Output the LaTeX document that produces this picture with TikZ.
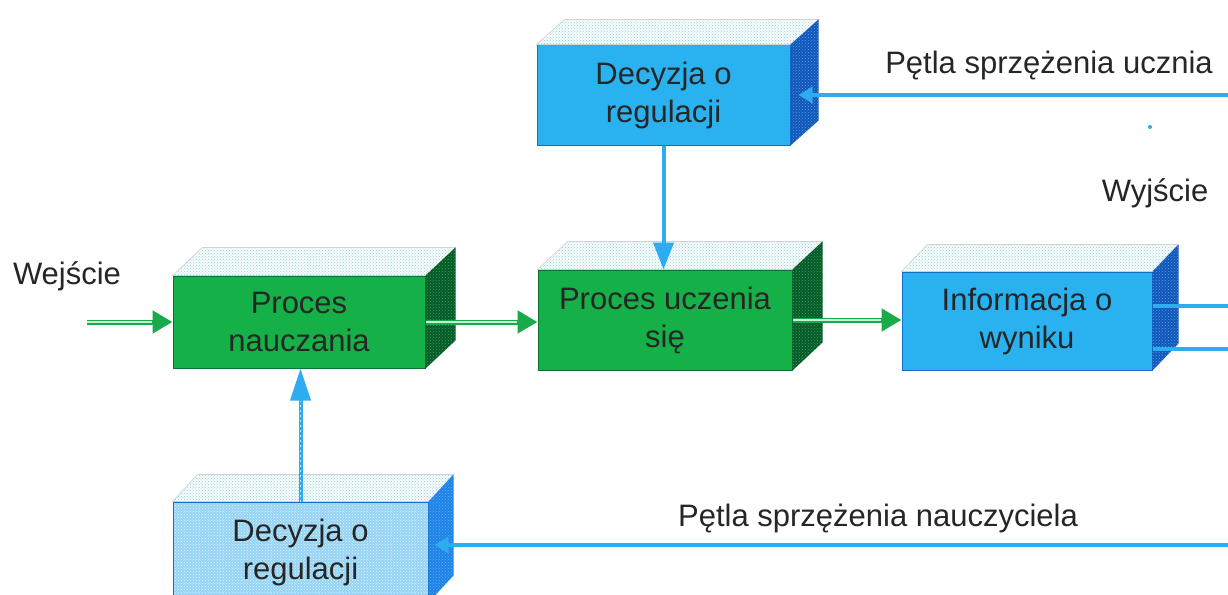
\documentclass[tikz,border=0pt]{standalone}
\usepackage{fontspec}
\setmainfont{Liberation Sans}
\usetikzlibrary{arrows.meta,patterns,calc}
\definecolor{gfront}{RGB}{22,176,72}
\definecolor{gline}{RGB}{10,115,50}
\definecolor{gside}{RGB}{5,90,40}
\definecolor{gdots}{RGB}{60,160,95}
\definecolor{bfront}{RGB}{42,178,240}
\definecolor{bline}{RGB}{20,110,200}
\definecolor{bside}{RGB}{18,85,185}
\definecolor{bdots}{RGB}{80,160,235}
\definecolor{lfront}{RGB}{150,212,245}
\definecolor{lside}{RGB}{30,130,230}
\definecolor{ldots}{RGB}{90,175,245}
\definecolor{topdots}{RGB}{150,210,220}
\definecolor{arrb}{RGB}{45,172,240}
\definecolor{arrg}{RGB}{25,170,75}
\definecolor{arrgl}{RGB}{200,240,210}
\tikzset{
  boxtext/.style={inner sep=0pt, align=center, text=black!85, font=\fontsize{31}{38}\selectfont},
  frontg/.style={boxtext, draw=gline, line width=1pt, fill=gfront},
  frontb/.style={boxtext, draw=bline, line width=1pt, fill=bfront},
  frontl/.style={boxtext, draw=bline, line width=1pt, preaction={fill=lfront}, pattern=crosshatch dots, pattern color=white!75!lfront},
  topface/.style={preaction={fill=white!92!topdots}, pattern=crosshatch dots, pattern color=topdots, draw=gray!35, line width=0.6pt},
  sideg/.style={preaction={fill=gside}, pattern=crosshatch dots, pattern color=gdots},
  sideb/.style={preaction={fill=bside}, pattern=crosshatch dots, pattern color=bdots},
  sidel/.style={preaction={fill=lside}, pattern=crosshatch dots, pattern color=ldots},
  lbl/.style={inner sep=0pt, text=black!85, font=\fontsize{31}{36}\selectfont},
  garrow/.style={draw=arrg, line width=5pt, -{Triangle[length=20pt,width=22pt]},
    postaction={draw=arrgl, line width=1.3pt, shorten >=21pt, -}},
  bline4/.style={draw=arrb, line width=4pt},
}
\newcommand\cubefaces[4]{%
  \path[topface] (#1.north west) -- ($(#1.north west)+(#2,-#3)$) -- ($(#1.north east)+(#2,-#3)$) -- (#1.north east) -- cycle;
  \path[#4] (#1.north east) -- ($(#1.north east)+(#2,-#3)$) -- ($(#1.south east)+(#2,-#3)$) -- (#1.south east) -- cycle;}
\begin{document}
\begin{tikzpicture}[x=1pt,y=-1pt]
\useasboundingbox (0,0) rectangle (1228,594);
\clip (0,0) rectangle (1228,594);
\fill[white] (0,0) rectangle (1228,594);
% boxes (front faces)
\node[frontb, minimum width=253pt, minimum height=100pt] (dt) at (663.5,95) {Decyzja o\\regulacji};
\node[frontg, minimum width=252pt, minimum height=92pt] (pn) at (299,322) {Proces\\nauczania};
\node[frontg, minimum width=254pt, minimum height=100pt] (pu) at (665,320) {Proces uczenia\\się};
\node[frontb, minimum width=250pt, minimum height=98pt] (inf) at (1027,321) {Informacja o\\wyniku};
\node[frontl, minimum width=255pt, minimum height=100pt] (db) at (300.5,552) {Decyzja o\\regulacji};
% 3D faces
\cubefaces{dt}{28}{25}{sideb}
\cubefaces{pn}{30}{28}{sideg}
\cubefaces{pu}{30}{28}{sideg}
\cubefaces{inf}{26}{27}{sideb}
\cubefaces{db}{25}{27}{sidel}
% labels
\node[lbl] (win) at (67,276) {Wejście};
\node[lbl] (lu) at (1049,66) {Pętla sprzężenia ucznia};
\node[lbl] (wy) at (1155,193) {Wyjście};
\node[lbl] (ln) at (878,518) {Pętla sprzężenia nauczyciela};
% free ends
\coordinate (in) at (87,322);
\coordinate (fbu) at (1228,95);
\coordinate (fbn) at (1228,545);
\coordinate (o1) at (1228,306);
\coordinate (o2) at (1228,349);
% green flow
\draw[garrow] (in) -- (pn.west);
\draw[garrow] (pn.east) -- (pn.east -| pu.west);
\draw[garrow] (pu.east) -- (pu.east -| inf.west);
% blue connectors
\draw[bline4, -{Triangle[length=27pt,width=20pt]}] (dt.south) -- (dt.south |- pu.north);
\draw[bline4, -{Triangle[length=32pt,width=20pt]}, postaction={draw=white!70!arrb, line width=1pt, dash pattern=on 2pt off 3pt, shorten >=32pt, -}] (db.north) -- (db.north |- pn.south);
\draw[bline4, -{Triangle[length=14pt,width=16pt]}] (fbu) -- ($(dt.east)+(8,0)$);
\draw[bline4, -{Triangle[length=14pt,width=16pt]}] (fbn) -- ($(db.east)+(6,-7)$);
\draw[bline4] ($(inf.east)+(0,-15)$) -- (o1);
\draw[bline4] ($(inf.east)+(0,28)$) -- (o2);
\fill[arrb] (1150,127) circle (2);
\end{tikzpicture}
\end{document}
